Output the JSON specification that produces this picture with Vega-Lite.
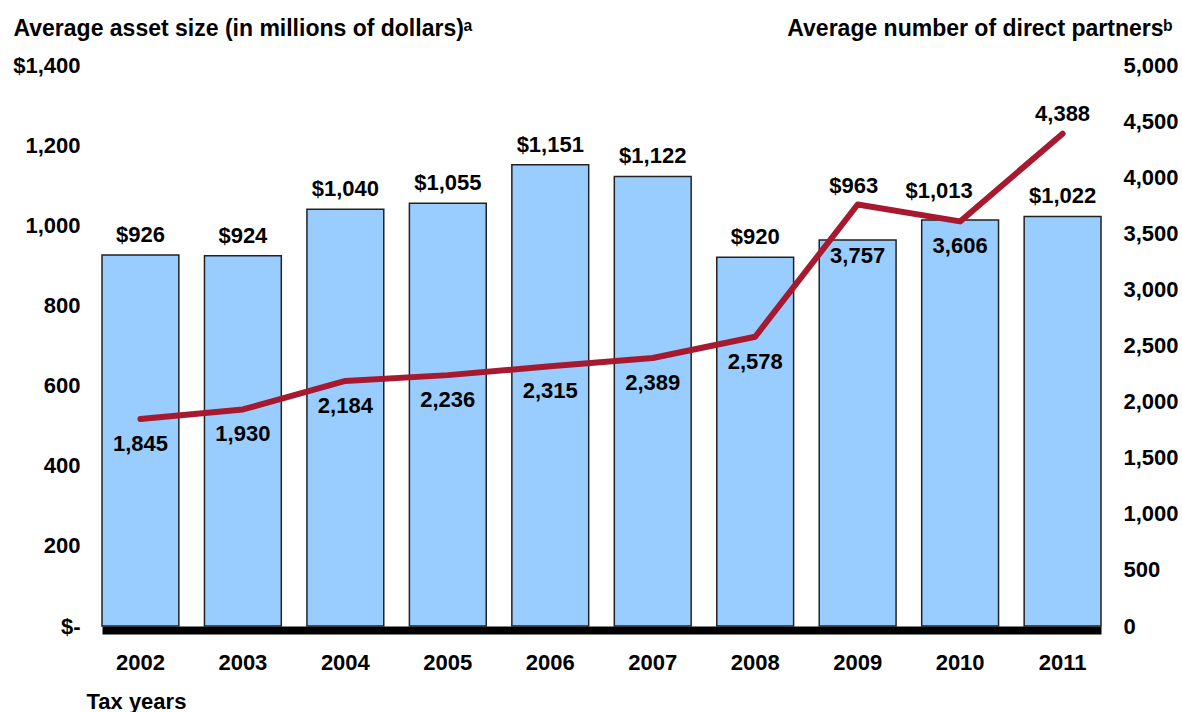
{
  "$schema": "https://vega.github.io/schema/vega-lite/v6.json",
  "width": 999,
  "height": 561,
  "autosize": {"type": "none"},
  "padding": {"left": 102, "top": 65, "right": 81, "bottom": 86},
  "background": "#ffffff",
  "config": {
    "view": {"stroke": null},
    "font": "Liberation Sans",
    "axis": {
      "grid": false,
      "ticks": false,
      "tickSize": 0,
      "labelFont": "Liberation Sans",
      "labelFontWeight": "bold",
      "labelFontSize": 22,
      "labelColor": "#000000",
      "titleFont": "Liberation Sans",
      "titleFontWeight": "bold",
      "titleFontSize": 23,
      "titleColor": "#000000"
    }
  },
  "data": {
    "values": [
      {"year": "2002", "asset": 926, "partners": 1845},
      {"year": "2003", "asset": 924, "partners": 1930},
      {"year": "2004", "asset": 1040, "partners": 2184},
      {"year": "2005", "asset": 1055, "partners": 2236},
      {"year": "2006", "asset": 1151, "partners": 2315},
      {"year": "2007", "asset": 1122, "partners": 2389},
      {"year": "2008", "asset": 920, "partners": 2578},
      {"year": "2009", "asset": 963, "partners": 3757},
      {"year": "2010", "asset": 1013, "partners": 3606},
      {"year": "2011", "asset": 1022, "partners": 4388}
    ]
  },
  "encoding": {
    "x": {
      "field": "year",
      "type": "ordinal",
      "scale": {"paddingInner": 0.25, "paddingOuter": 0},
      "axis": {
        "title": "Tax years",
        "labelAngle": 0,
        "domainColor": "#000000",
        "domainWidth": 8,
        "offset": 4,
        "labelPadding": 22,
        "titleFontSize": 22,
        "titleAnchor": "start",
        "titleAlign": "left",
        "titleBaseline": "alphabetic",
        "titleX": -16,
        "titleY": 78
      }
    }
  },
  "layer": [
    {
      "encoding": {
        "y": {
          "field": "asset",
          "type": "quantitative",
          "scale": {"domain": [0, 1400]},
          "axis": {
            "orient": "left",
            "values": [0, 200, 400, 600, 800, 1000, 1200, 1400],
            "domain": false,
            "labelPadding": 22,
            "labelExpr": "datum.value == 0 ? '$-' : datum.value == 1400 ? '$1,400' : format(datum.value, ',')",
            "title": "Average asset size (in millions of dollars)ᵃ",
            "titleAngle": 0,
            "titleAnchor": "start",
            "titleAlign": "left",
            "titleBaseline": "alphabetic",
            "titleX": -89,
            "titleY": -30
          }
        }
      },
      "layer": [
        {
          "mark": {"type": "bar", "fill": "#99CCFF", "stroke": "#222222", "strokeWidth": 1.5}
        },
        {
          "transform": [{"filter": "datum.year != '2009' && datum.year != '2010'"}],
          "mark": {"type": "text", "baseline": "alphabetic", "dy": -13, "font": "Liberation Sans", "fontWeight": "bold", "fontSize": 22, "color": "#000000"},
          "encoding": {"text": {"field": "asset", "type": "quantitative", "format": "$,"}}
        },
        {
          "transform": [{"filter": "datum.year == '2009'"}],
          "mark": {"type": "text", "baseline": "alphabetic", "dy": -47, "dx": -4, "font": "Liberation Sans", "fontWeight": "bold", "fontSize": 22, "color": "#000000"},
          "encoding": {"text": {"field": "asset", "type": "quantitative", "format": "$,"}}
        },
        {
          "transform": [{"filter": "datum.year == '2010'"}],
          "mark": {"type": "text", "baseline": "alphabetic", "dy": -22, "dx": -21, "font": "Liberation Sans", "fontWeight": "bold", "fontSize": 22, "color": "#000000"},
          "encoding": {"text": {"field": "asset", "type": "quantitative", "format": "$,"}}
        }
      ]
    },
    {
      "encoding": {
        "y": {
          "field": "partners",
          "type": "quantitative",
          "scale": {"domain": [0, 5000]},
          "axis": {
            "orient": "right",
            "values": [0, 500, 1000, 1500, 2000, 2500, 3000, 3500, 4000, 4500, 5000],
            "format": ",.0f",
            "domain": false,
            "labelPadding": 22,
            "labelAlign": "left",
            "title": "Average number of direct partnersᵇ",
            "titleAngle": 0,
            "titleAnchor": "start",
            "titleAlign": "right",
            "titleBaseline": "alphabetic",
            "titleX": 71,
            "titleY": -30
          }
        }
      },
      "layer": [
        {
          "mark": {"type": "line", "color": "#A6192E", "strokeWidth": 6, "strokeCap": "round", "strokeJoin": "round"}
        },
        {
          "transform": [{"filter": "datum.year != '2009' && datum.year != '2011'"}],
          "mark": {"type": "text", "baseline": "middle", "dy": 25, "font": "Liberation Sans", "fontWeight": "bold", "fontSize": 22, "color": "#000000"},
          "encoding": {"text": {"field": "partners", "type": "quantitative", "format": ","}}
        },
        {
          "transform": [{"filter": "datum.year == '2009'"}],
          "mark": {"type": "text", "baseline": "middle", "dy": 52, "font": "Liberation Sans", "fontWeight": "bold", "fontSize": 22, "color": "#000000"},
          "encoding": {"text": {"field": "partners", "type": "quantitative", "format": ","}}
        },
        {
          "transform": [{"filter": "datum.year == '2011'"}],
          "mark": {"type": "text", "baseline": "middle", "dy": -20, "font": "Liberation Sans", "fontWeight": "bold", "fontSize": 22, "color": "#000000"},
          "encoding": {"text": {"field": "partners", "type": "quantitative", "format": ","}}
        }
      ]
    }
  ],
  "resolve": {"scale": {"y": "independent"}}
}
